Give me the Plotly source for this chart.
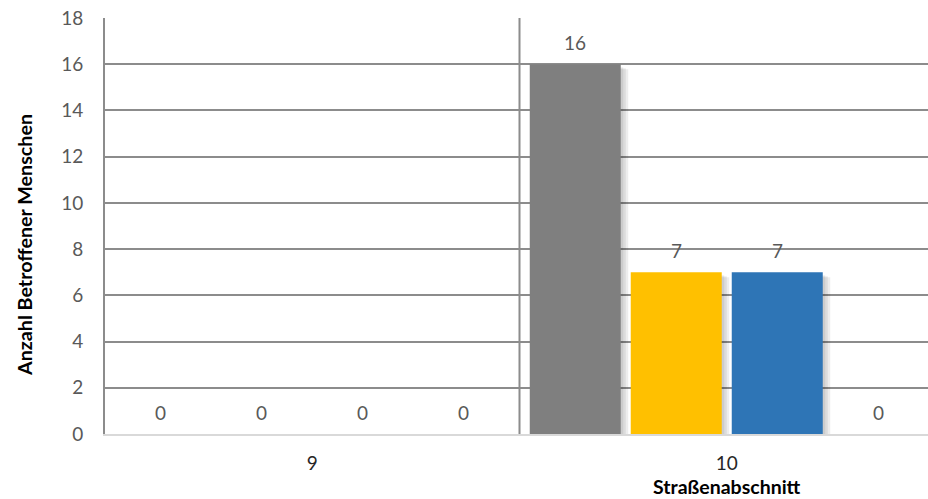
import plotly.graph_objects as go

# Data: people affected per road section, four series per section
sections = ["9", "10"]
series_names = ["Reihe 1", "Reihe 2", "Reihe 3", "Reihe 4"]
series_colors = ["#7f7f7f", "#ffc000", "#2e75b6", "#a5a5a5"]
values = [
    [0, 16],  # grey
    [0, 7],   # yellow
    [0, 7],   # blue
    [0, 0],   # fourth series
]

y_ticks = [0, 2, 4, 6, 8, 10, 12, 14, 16, 18]

# Geometry of the grouped bars, in category units
W, H = 928, 499
M_L, M_R, M_T, M_B = 105, 0, 18, 65
PLOT_W, PLOT_H = W - M_L - M_R, H - M_T - M_B
CAT_PX = 414.5                      # width of one category in pixels
SLOT = 101 / CAT_PX                 # spacing between bars inside a group
BAR_W = 91 / CAT_PX                 # bar width
X_RANGE = [-0.5, -0.5 + PLOT_W / CAT_PX]
Y_RANGE = [0, 18]
PX_PER_Y = PLOT_H / (Y_RANGE[1] - Y_RANGE[0])

GRID = "#8c8c8c"
TXT = "#595959"
FONT = "Lato"

fig = go.Figure()
xs = list(range(len(sections)))

# soft drop shadows behind the bars (layered translucent copies)
for k in (1, 2, 3):
    for i, vals in enumerate(values):
        center = (i - 1.5) * SLOT
        sh_vals = [max(v - (2 + k) / PX_PER_Y, 0) if v > 0 else 0 for v in vals]
        fig.add_trace(go.Bar(
            x=xs, y=sh_vals, width=BAR_W, offset=center - BAR_W / 2 + 2.5 * k / CAT_PX,
            marker=dict(color="rgba(0,0,0,0.07)", line=dict(width=0)),
            showlegend=False, hoverinfo="skip",
        ))

# the bars
for i, (name, vals, col) in enumerate(zip(series_names, values, series_colors)):
    center = (i - 1.5) * SLOT
    fig.add_trace(go.Bar(
        x=xs, y=vals, name=name, width=BAR_W, offset=center - BAR_W / 2,
        marker=dict(color=col, line=dict(width=0)), showlegend=False,
    ))
    for xi, v in zip(xs, vals):
        fig.add_annotation(
            x=xi + center, y=v, xref="x", yref="y", text=str(v),
            showarrow=False, yanchor="bottom", yshift=8,
            font=dict(family=FONT, size=19, color=TXT),
        )

# vertical separators between sections
for b in [xi + 0.5 for xi in xs[:-1]]:
    fig.add_shape(type="line", xref="x", yref="paper", x0=b, x1=b, y0=0, y1=1,
                  line=dict(color=GRID, width=2), layer="below")

# axis titles
fig.add_annotation(
    text="<b>Straßenabschnitt</b>", xref="paper", yref="paper",
    x=(727 - M_L) / PLOT_W, y=-(486 - (H - M_B)) / PLOT_H,
    xanchor="center", yanchor="middle", showarrow=False,
    font=dict(family=FONT, size=19.5, color="#000000"),
)
fig.add_annotation(
    text="<b>Anzahl Betroffener Menschen</b>", xref="paper", yref="paper",
    x=(25 - M_L) / PLOT_W, y=((H - M_B) - 245) / PLOT_H, textangle=-90,
    xanchor="center", yanchor="middle", showarrow=False,
    font=dict(family=FONT, size=19.7, color="#000000"),
)

fig.update_layout(
    width=W, height=H, barmode="overlay",
    margin=dict(l=M_L, r=M_R, t=M_T, b=M_B),
    paper_bgcolor="white", plot_bgcolor="white",
    font=dict(family=FONT),
    xaxis=dict(
        range=X_RANGE, tickvals=xs, ticktext=sections, showgrid=False,
        zeroline=False, showline=True, linecolor="#d9d9d9", linewidth=2,
        ticks="outside", ticklen=11, tickcolor="rgba(0,0,0,0)",
        tickfont=dict(family=FONT, size=19, color="#262626"),
    ),
    yaxis=dict(
        range=Y_RANGE, tickvals=y_ticks, showgrid=True, gridcolor=GRID, gridwidth=2,
        zeroline=False, showline=True, linecolor=GRID, linewidth=2,
        ticks="outside", ticklen=16, tickcolor="rgba(0,0,0,0)",
        tickfont=dict(family=FONT, size=19, color=TXT),
    ),
)

fig.write_html("out.html")
